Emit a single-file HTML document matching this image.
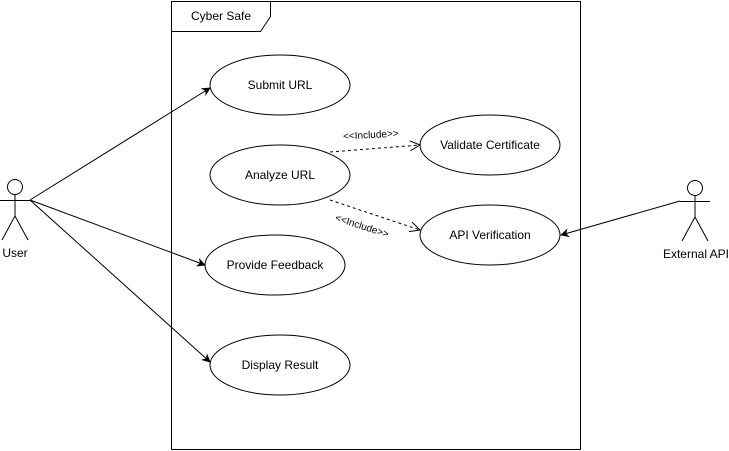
<!DOCTYPE html>
<html><head><meta charset="utf-8"><style>
html,body{margin:0;padding:0;background:#fff;}
svg{display:block;}
text{font-family:"Liberation Sans",Arial,sans-serif;font-size:12px;fill:#000;}
</style></head><body>
<svg width="729" height="451" viewBox="0 0 729 451" xmlns="http://www.w3.org/2000/svg">
<defs>
<marker id="open" viewBox="0 0 12 12" refX="11" refY="6" markerWidth="12" markerHeight="12" orient="auto" markerUnits="userSpaceOnUse">
<path d="M1,1 L11,6 L1,11" fill="none" stroke="#000" stroke-width="1"/>
</marker>
<marker id="solid" viewBox="0 0 10 10" refX="9" refY="5" markerWidth="9" markerHeight="9" orient="auto" markerUnits="userSpaceOnUse">
<path d="M0,0 L10,5 L0,10 L3,5 Z" fill="#000"/>
</marker>
</defs>
<g fill="none" stroke="#000" stroke-width="1">
<rect x="171.5" y="1.5" width="409" height="448" fill="#fff"/>
<path d="M171.5,31.5 L260.5,31.5 L270.5,16.5 L270.5,1.5"/>
<!-- user actor -->
<circle cx="15" cy="187" r="7.5"/>
<path d="M15,194.5 V216 M0,200.5 H30 M15,216 L2,240 M15,216 L28,240"/>
<!-- external actor -->
<circle cx="695" cy="188" r="7.5"/>
<path d="M695,195.5 V217 M680,201.5 H710 M695,217 L682,241 M695,217 L708,241"/>
<!-- ellipses -->
<ellipse cx="280" cy="85" rx="70" ry="30"/>
<ellipse cx="280" cy="175" rx="70" ry="30"/>
<ellipse cx="490" cy="145" rx="70" ry="30"/>
<ellipse cx="490" cy="235" rx="70" ry="30"/>
<ellipse cx="275" cy="265" rx="70" ry="30"/>
<ellipse cx="280" cy="365" rx="70" ry="30"/>
<!-- associations -->
<path d="M30,200 L210,88" marker-end="url(#solid)"/>
<path d="M30,200 L205,265" marker-end="url(#solid)"/>
<path d="M30,200 L210,362" marker-end="url(#solid)"/>
<path d="M680,201 L561,235" marker-end="url(#solid)"/>
<!-- includes -->
<path d="M330,152 L420,145" stroke-dasharray="3,3" marker-end="url(#open)"/>
<path d="M330,200 L420,230" stroke-dasharray="3,3" marker-end="url(#open)"/>
</g>
<text x="221" y="20" text-anchor="middle">Cyber Safe</text>
<text x="15" y="257" text-anchor="middle">User</text>
<text x="696" y="258" text-anchor="middle">External API</text>
<text x="280" y="89" text-anchor="middle">Submit URL</text>
<text x="280" y="179" text-anchor="middle">Analyze URL</text>
<text x="490" y="149" text-anchor="middle">Validate Certificate</text>
<text x="490" y="239" text-anchor="middle">API Verification</text>
<text x="275" y="269" text-anchor="middle">Provide Feedback</text>
<text x="280" y="369" text-anchor="middle">Display Result</text>
<text x="371" y="138" text-anchor="middle" style="font-size:10px" transform="rotate(-3 371 138)">&lt;&lt;Include&gt;&gt;</text>
<text x="361" y="229" text-anchor="middle" style="font-size:10px" transform="rotate(18 361 229)">&lt;&lt;Include&gt;&gt;</text>
</svg>
</body></html>
